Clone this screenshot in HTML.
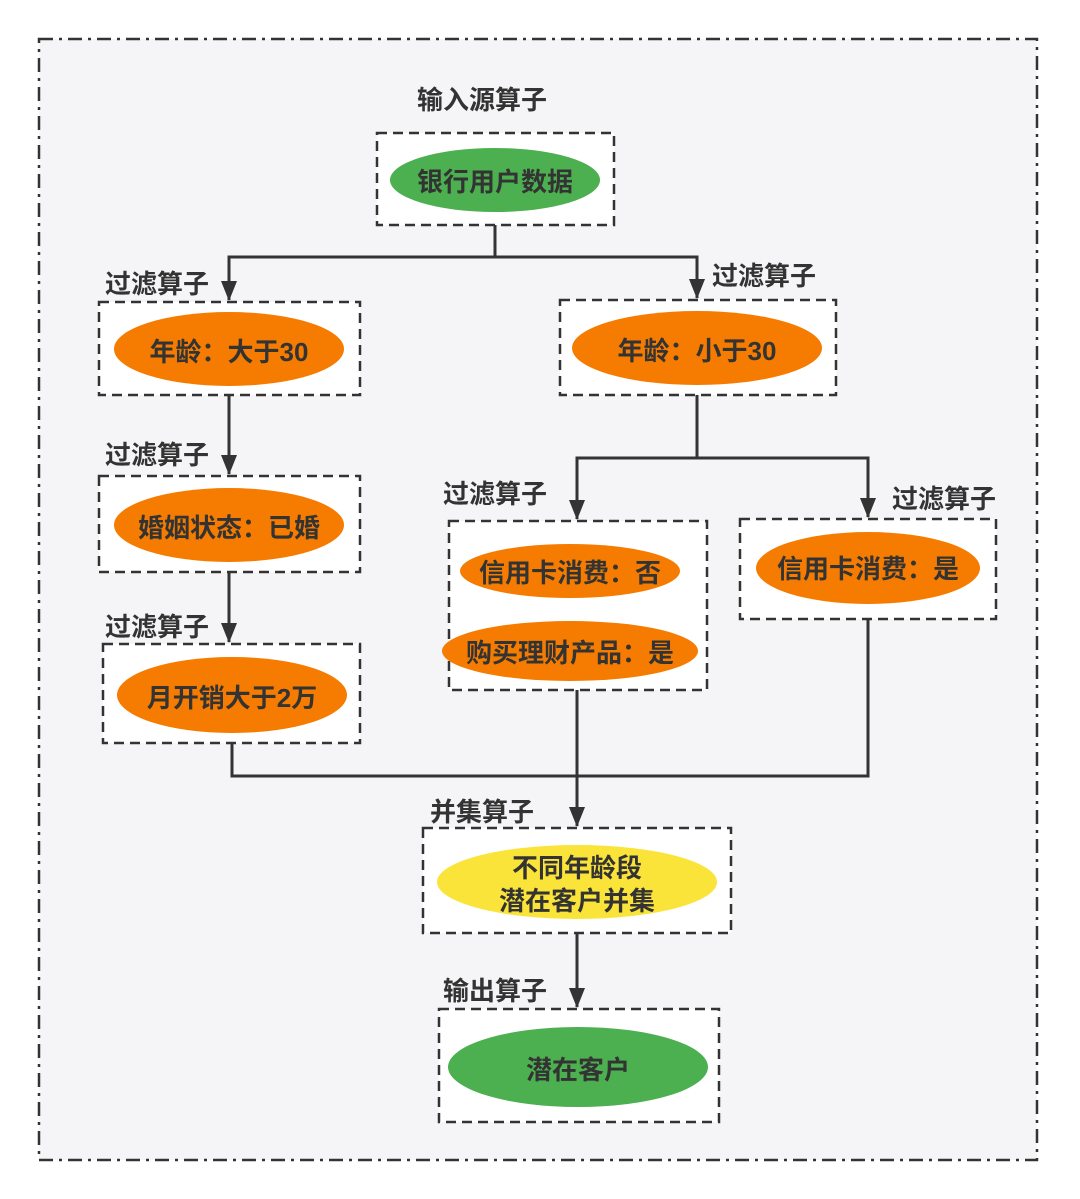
<!DOCTYPE html>
<html><head><meta charset="utf-8"><style>
html,body{margin:0;padding:0;background:#fff;}
svg{display:block;}
text{font-family:"Liberation Sans","Noto Sans CJK SC",sans-serif;font-weight:bold;fill:#333;}
</style></head><body>
<svg width="1080" height="1199" viewBox="0 0 1080 1199" xmlns="http://www.w3.org/2000/svg">
<defs>
<marker id="b" markerWidth="16" markerHeight="20" refX="8" refY="19" orient="0" markerUnits="userSpaceOnUse" viewBox="0 0 16 20"><path d="M0,0 L16,0 L8,20 Z" fill="#333"/></marker></defs>
<rect x="39" y="39" width="998" height="1121" fill="#f5f5f7" stroke="#333" stroke-width="2.5" stroke-dasharray="14,6,3,6"/>
<g fill="#fff" stroke="#333" stroke-width="2.5" stroke-dasharray="10,6">
<rect x="377" y="133" width="237" height="92"/>
<rect x="99" y="302" width="261" height="93"/>
<rect x="560" y="300" width="276" height="95"/>
<rect x="99" y="476" width="261" height="96"/>
<rect x="103" y="644" width="257" height="99"/>
<rect x="449" y="521" width="258" height="169"/>
<rect x="740" y="519" width="256" height="100"/>
<rect x="423" y="828" width="308" height="105"/>
<rect x="439" y="1009" width="280" height="113"/>
</g>
<g fill="none" stroke="#333" stroke-width="3">
<path d="M495,225 V257 H229 V300" marker-end="url(#b)"/>
<path d="M495,257 H697 V298" marker-end="url(#b)"/>
<path d="M229,395 V474" marker-end="url(#b)"/>
<path d="M229,572 V642" marker-end="url(#b)"/>
<path d="M697,395 V458 H577 V519" marker-end="url(#b)"/>
<path d="M697,458 H868 V517" marker-end="url(#b)"/>
<path d="M232,743 V776 H868 V619"/>
<path d="M577,690 V826" marker-end="url(#b)"/>
<path d="M577,933 V1007" marker-end="url(#b)"/>
</g>
<g>
<ellipse cx="495" cy="180" rx="105" ry="32" fill="#4caf50"/>
<ellipse cx="229" cy="349" rx="115" ry="37" fill="#f57c00"/>
<ellipse cx="697" cy="348" rx="125" ry="37" fill="#f57c00"/>
<ellipse cx="229" cy="525" rx="115" ry="37" fill="#f57c00"/>
<ellipse cx="232" cy="695" rx="115" ry="38" fill="#f57c00"/>
<ellipse cx="570" cy="571" rx="110" ry="27" fill="#f57c00"/>
<ellipse cx="570" cy="651" rx="128" ry="30" fill="#f57c00"/>
<ellipse cx="868" cy="568" rx="112" ry="36" fill="#f57c00"/>
<ellipse cx="577" cy="882" rx="140" ry="37" fill="#fbe43a"/>
<ellipse cx="578" cy="1067" rx="130" ry="40" fill="#4caf50"/>
</g>
<g font-size="26" text-anchor="middle">
<text x="495" y="191">银行用户数据</text>
<text x="229" y="361">年龄：大于30</text>
<text x="697" y="360">年龄：小于30</text>
<text x="229" y="537">婚姻状态：已婚</text>
<text x="232" y="707">月开销大于2万</text>
<text x="570" y="582">信用卡消费：否</text>
<text x="570" y="662">购买理财产品：是</text>
<text x="868" y="578">信用卡消费：是</text>
<text x="577" y="877">不同年龄段</text>
<text x="577" y="910">潜在客户并集</text>
<text x="578" y="1079">潜在客户</text>
</g>
<g font-size="26">
<text x="417" y="109">输入源算子</text>
<text x="105" y="293">过滤算子</text>
<text x="712" y="285">过滤算子</text>
<text x="105" y="464">过滤算子</text>
<text x="443" y="503">过滤算子</text>
<text x="892" y="508">过滤算子</text>
<text x="105" y="636">过滤算子</text>
<text x="430" y="821">并集算子</text>
<text x="443" y="1000">输出算子</text>
</g>
</svg>
</body></html>
